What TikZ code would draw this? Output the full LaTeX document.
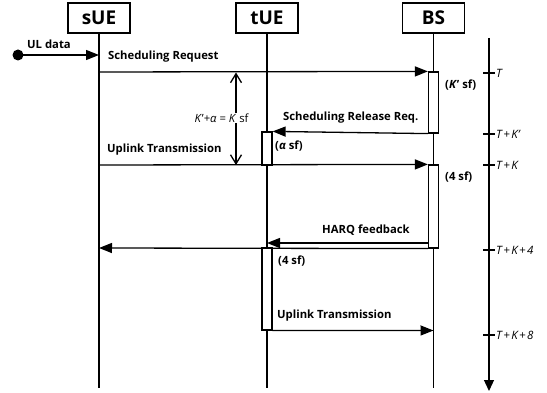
\documentclass[tikz,border=0pt]{standalone}
\usepackage{fontspec}
\setmainfont{Open Sans}
\usetikzlibrary{arrows.meta}
\newcommand{\tplus}{\kern1.4pt+\kern1.4pt}
\tikzset{
  actor/.style={draw,line width=1.3pt,minimum width=62pt,minimum height=30pt,inner sep=0pt,font=\fontsize{19}{19}\selectfont\bfseries},
  actbox/.style={draw,fill=white,line width=1.2pt,minimum width=10pt,inner sep=0pt},
  msg/.style={line width=1.3pt,-{Triangle[length=13pt,width=10pt]}},
  life/.style={line width=1.3pt},
  lbl/.style={anchor=west,inner sep=0pt,font=\fontsize{11.3}{12}\selectfont\bfseries},
  tlbl/.style={anchor=west,inner sep=0pt,font=\fontsize{11.5}{12}\selectfont\itshape},
}
\begin{document}
\begin{tikzpicture}[x=1pt,y=-1pt]
\useasboundingbox (0,0) rectangle (547,393);
% actors
\node[actor] (sue) at (99,18) {sUE};
\node[actor] (tue) at (267,18) {tUE};
\node[actor] (bs) at (433.5,18) {BS};
\coordinate (sueEnd) at (99,388);
\coordinate (tueEnd) at (267,388);
\coordinate (bsEnd) at (433.5,388);
\draw[life] (sue) -- (sueEnd);
\draw[life] (tue) -- (tueEnd);
\draw[life] (bs) -- (bsEnd);
% activation boxes
\node[actbox,minimum height=61pt] (bs1) at (433.5,102.5) {};
\node[actbox,minimum height=83pt] (bs2) at (433.5,206.5) {};
\node[actbox,minimum height=33pt] (tue1) at (267,148.5) {};
\node[actbox,minimum height=82pt] (tue2) at (267,289) {};
% UL data
\coordinate (dot) at (18,55);
\coordinate (sueUL) at (99,55);
\fill (dot) circle (5.5pt);
\draw[msg] (dot) -- (sueUL);
\node[lbl] (uldata) at (27,44) {UL data};
% Scheduling request
\coordinate (sueSR) at (99,72);
\draw[msg] (sueSR) -- (bs1.north west);
\node[lbl] (srl) at (108,57) {Scheduling Request};
% Scheduling release
\draw[msg] (bs1.south west) -- (tue1.north east);
\node[lbl] (srr) at (283,118) {Scheduling Release Req.};
% Uplink 1
\coordinate (sueUT) at (99,165);
\draw[msg] (sueUT) -- (bs2.north west);
\node[lbl] (ut1) at (107,150) {Uplink Transmission};
% HARQ
\coordinate (tueH) at (267,243);
\coordinate (bsH) at (428.5,243);
\draw[msg] (bsH) -- (tueH);
\node[lbl] (harq) at (322,230) {HARQ feedback};
% to sUE
\coordinate (sueH) at (99,248);
\draw[msg] (bs2.south west) -- (sueH);
% Uplink 2
\coordinate (bsU2) at (433.5,330.5);
\draw[msg] (tue2.south east) -- (bsU2);
\node[lbl] (ut2) at (277,316) {Uplink Transmission};
% duration labels
\node[lbl] (kp) at (445,85) {(\textit{K}' sf)};
\node[lbl] (al) at (275,146) {(\textit{α} sf)};
\node[lbl] (f1) at (445,177) {(4 sf)};
\node[lbl] (f2) at (278,261) {(4 sf)};
% K interval
\coordinate (ka) at (236,72.5);
\coordinate (kb) at (236,165);
\draw[line width=1.3pt,{Straight Barb[length=9pt,width=11pt]}-{Straight Barb[length=9pt,width=11pt]}] (ka) -- (kb);
\node[lbl,anchor=center,fill=white,inner sep=1pt,font=\fontsize{11.3}{12}\selectfont] (kl) at (221.5,118) {\textit{K}'+\textit{α} = \textit{K} sf};
% time axis
\coordinate (t0) at (489,38);
\coordinate (t1) at (489,391);
\draw[line width=1.3pt,-{Triangle[length=11pt,width=10pt]}] (t0) -- (t1);
\foreach \y/\t/\n in {73/T/a,134/T\tplus K'/b,165/T\tplus K/c,250/T\tplus K\tplus 4/d,335/T\tplus K\tplus 8/e}{
  \draw[line width=1.1pt] (483,\y) -- (495,\y);
  \node[tlbl] (tl\n) at (496,\y) {\t};
}
\end{tikzpicture}
\end{document}
